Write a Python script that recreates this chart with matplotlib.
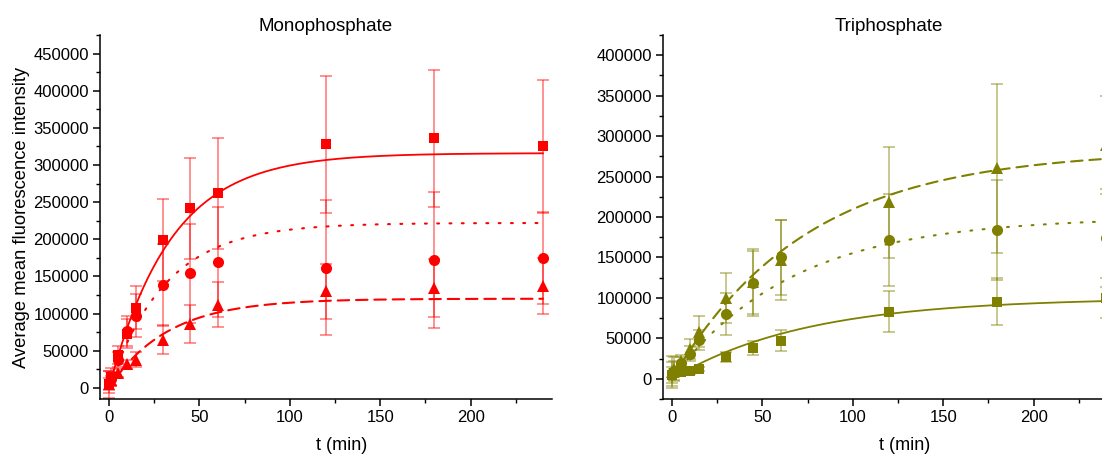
import numpy as np
import matplotlib
matplotlib.use("Agg")
import matplotlib.pyplot as plt
from matplotlib.ticker import MultipleLocator

plt.rcParams['font.family'] = ['Liberation Sans', 'DejaVu Sans']

# Sampling times (min)
t = [0, 1, 5, 10, 15, 30, 45, 60, 120, 180, 240]

# Monophosphate: mean intensity and standard deviation per series
mono_sq = [5000, 15000, 44000, 73000, 108000, 199000, 242000, 262000, 328000, 336000, 325000]
mono_sq_err = [18000, 12000, 12000, 20000, 29000, 55000, 68000, 75000, 92000, 92000, 90000]
mono_ci = [8000, 12000, 38000, 77000, 97000, 138000, 154000, 169000, 162000, 172000, 175000]
mono_ci_err = [15000, 10000, 10000, 20000, 29000, 55000, 67000, 74000, 91000, 91000, 62000]
mono_tr = [5000, 10000, 20000, 32000, 38000, 65000, 86000, 112000, 130000, 134000, 137000]
mono_tr_err = [8000, 6000, 5000, 6000, 10000, 20000, 26000, 30000, 37000, 39000, 38000]

# Triphosphate: mean intensity and standard deviation per series
tri_sq = [5000, 7000, 8000, 9000, 12000, 27000, 38000, 47000, 83000, 95000, 100000]
tri_sq_err = [10000, 5000, 3000, 3000, 3000, 6000, 9000, 13000, 25000, 29000, 25000]
tri_ci = [6000, 10000, 19000, 31000, 48000, 80000, 118000, 150000, 172000, 184000, 174000]
tri_ci_err = [15000, 12000, 8000, 9000, 12000, 26000, 40000, 46000, 57000, 62000, 61000]
tri_tr = [8000, 12000, 22000, 37000, 58000, 100000, 120000, 147000, 218000, 260000, 289000]
tri_tr_err = [20000, 15000, 8000, 12000, 19000, 31000, 40000, 49000, 69000, 104000, 60000]

# First-order association fits: plateau and rate constant (1/min)
mono_fit = {'sq': (316000, 0.0294), 'ci': (222000, 0.032), 'tr': (120000, 0.031)}
tri_fit = {'sq': (100000, 0.0135), 'ci': (200000, 0.015), 'tr': (283000, 0.0135)}

RED = '#FF0000'
OLIVE = '#808000'

W, H = 1102, 455
fig = plt.figure(figsize=(W / 100, H / 100), dpi=100)

ax_w = 452 / W
ax_h = 364 / H
ax_b = (H - 399) / H
ax1 = fig.add_axes([100 / W, ax_b, ax_w, ax_h])
ax2 = fig.add_axes([663 / W, ax_b, ax_w, ax_h])

markers = {'sq': 's', 'ci': 'o', 'tr': '^'}
styles = {'sq': '-', 'ci': (0, (0.9, 5.0)), 'tr': (0, (5.5, 3.3))}


def rise(tt, plateau, k):
    return plateau * (1 - np.exp(-k * tt))


def panel(ax, color, series, fits, t_end):
    tt = np.linspace(0, t_end, 400)
    for key, (y, e) in series.items():
        plateau, k = fits[key]
        ax.plot(tt, rise(tt, plateau, k), linestyle=styles[key], color=color,
                lw=1.5 if key != 'sq' else 1.3, zorder=2,
                dash_capstyle='round')
        ax.errorbar(t, y, yerr=e, fmt='none', ecolor=color, alpha=0.5,
                    elinewidth=1.2, capsize=4, capthick=1.2, zorder=1)
        ms = 7.3 if key == 'sq' else 8
        ax.plot(t, y, linestyle='none', marker=markers[key], color=color,
                markersize=ms, markeredgewidth=0, zorder=3)
    ax.set_xlim(-5, 245)
    ax.xaxis.set_major_locator(MultipleLocator(50))
    ax.xaxis.set_minor_locator(MultipleLocator(25))
    ax.yaxis.set_major_locator(MultipleLocator(50000))
    ax.yaxis.set_minor_locator(MultipleLocator(25000))
    for s in ('top', 'right'):
        ax.spines[s].set_visible(False)
    for s in ('left', 'bottom'):
        ax.spines[s].set_linewidth(1.1)
    ax.tick_params(which='major', direction='out', length=5, width=1.1,
                   labelsize=12, colors='black', pad=3)
    ax.tick_params(which='minor', direction='out', length=3, width=1.0)
    ax.set_xlabel('t (min)', fontsize=13)
    ax.xaxis.set_label_coords(0.5 + 16 / 452, -0.105)


panel(ax1, RED,
      {'tr': (mono_tr, mono_tr_err), 'ci': (mono_ci, mono_ci_err),
       'sq': (mono_sq, mono_sq_err)},
      mono_fit, 240)
ax1.set_ylim(-15000, 475000)
ax1.set_title('Monophosphate', fontsize=13.5, pad=3)
ax1.set_ylabel('Average mean fluorescence intensity', fontsize=13.2)
ax1.yaxis.set_label_coords(-70 / 452, 0.5)

panel(ax2, OLIVE,
      {'sq': (tri_sq, tri_sq_err), 'ci': (tri_ci, tri_ci_err),
       'tr': (tri_tr, tri_tr_err)},
      tri_fit, 245)
ax2.set_ylim(-25000, 425000)
ax2.set_title('Triphosphate', fontsize=13.5, pad=3)

fig.savefig('out.png', dpi=100)
